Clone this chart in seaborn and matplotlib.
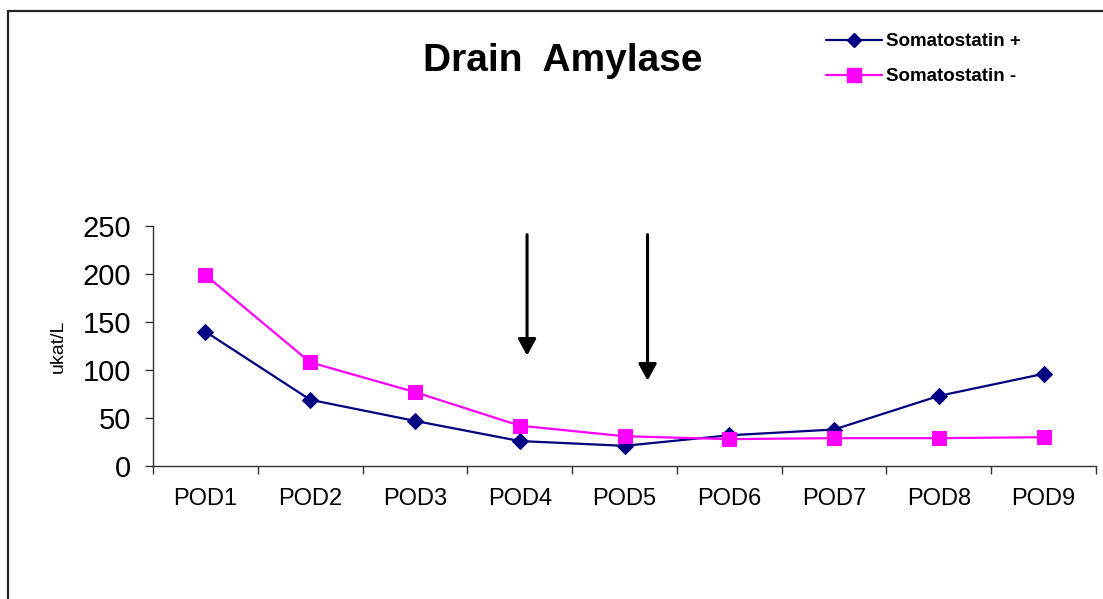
import matplotlib
matplotlib.use("Agg")
import matplotlib.pyplot as plt
import seaborn as sns
import pandas as pd
from matplotlib.lines import Line2D

days = ["POD1", "POD2", "POD3", "POD4", "POD5", "POD6", "POD7", "POD8", "POD9"]
soma_plus = [140, 69, 47, 26, 21, 32, 38, 73, 96]
soma_minus = [199, 108, 77, 42, 31, 28, 29, 29, 30]
series_names = ["Somatostatin +", "Somatostatin -"]
y_ticks = [0, 50, 100, 150, 200, 250]

sns.set_theme(style="white")
plt.rcParams["font.family"] = ["Liberation Sans", "DejaVu Sans"]
plt.rcParams["text.color"] = "black"
plt.rcParams["axes.labelcolor"] = "black"
plt.rcParams["xtick.color"] = "black"
plt.rcParams["ytick.color"] = "black"

df = pd.DataFrame({
    "x": list(range(len(days))) * 2,
    "value": soma_plus + soma_minus,
    "series": [series_names[0]] * len(days) + [series_names[1]] * len(days),
})

fig = plt.figure(figsize=(11.03, 5.99), dpi=100)
ax = fig.add_axes([153 / 1103, 1 - 466 / 599, (1096 - 153) / 1103, 240 / 599])

palette = {series_names[0]: "#000080", series_names[1]: "#FF00FF"}
markers = {series_names[0]: "D", series_names[1]: "s"}
sizes = {series_names[0]: 8, series_names[1]: 10.5}

for name in series_names:
    sub = df[df["series"] == name]
    sns.lineplot(data=sub, x="x", y="value", ax=ax, color=palette[name],
                 marker=markers[name], markersize=sizes[name],
                 markeredgecolor=palette[name], linewidth=1.6, label=name,
                 legend=False)

ax.set_xlim(-0.5, len(days) - 0.5)
ax.set_ylim(0, 250)
ax.set_yticks(y_ticks)
ax.set_yticklabels([str(v) for v in y_ticks], fontsize=21)
ax.set_xticks(range(len(days)))
ax.set_xticklabels(days, fontsize=17)
ax.set_xticks([i - 0.5 for i in range(len(days) + 1)], minor=True)
ax.tick_params(axis="x", which="major", length=0, pad=16)
ax.tick_params(axis="x", which="minor", length=6, width=1, color="#333333", direction="out", bottom=True)
ax.tick_params(axis="y", which="major", length=6, width=1, color="#333333", direction="out", left=True, pad=10)
ax.set_xlabel("")
ax.set_ylabel("ukat/L", fontsize=14, labelpad=11)
for s in ["top", "right"]:
    ax.spines[s].set_visible(False)
for s in ["left", "bottom"]:
    ax.spines[s].set_color("#333333")
    ax.spines[s].set_linewidth(1)

# arrows
arrow_props = dict(arrowstyle="-|>,head_length=1.0,head_width=0.55", color="black",
                   lw=2.2, mutation_scale=10, shrinkA=0, shrinkB=0)
ax.annotate("", xy=(3.07, 115), xytext=(3.07, 241), arrowprops=arrow_props, annotation_clip=False)
ax.annotate("", xy=(4.22, 89), xytext=(4.22, 241), arrowprops=arrow_props, annotation_clip=False)

# title
fig.text(563 / 1103, 1 - 61 / 599, "Drain  Amylase", fontsize=28, fontweight="bold",
         ha="center", va="center")

# legend
handles = [Line2D([], [], color=palette[n], marker=markers[n], markersize=sizes[n] * 0.95,
                  markeredgecolor=palette[n], linewidth=1.6) for n in series_names]
leg = fig.legend(handles, series_names, loc="upper left",
                 bbox_to_anchor=(826 / 1103, 1 - 33 / 599), frameon=False,
                 prop={"size": 13.5, "weight": "bold"}, handlelength=3.0,
                 handletextpad=0.2, labelspacing=0.95, borderaxespad=0, borderpad=0)

# outer frame
fig.add_artist(Line2D([8 / 1103, 8 / 1103], [1 - 11 / 599, -0.05], transform=fig.transFigure,
                      color="#222222", linewidth=1.6))
fig.add_artist(Line2D([8 / 1103, 1.05], [1 - 11 / 599, 1 - 11 / 599], transform=fig.transFigure,
                      color="#222222", linewidth=1.6))

fig.savefig("out.png", dpi=100)
